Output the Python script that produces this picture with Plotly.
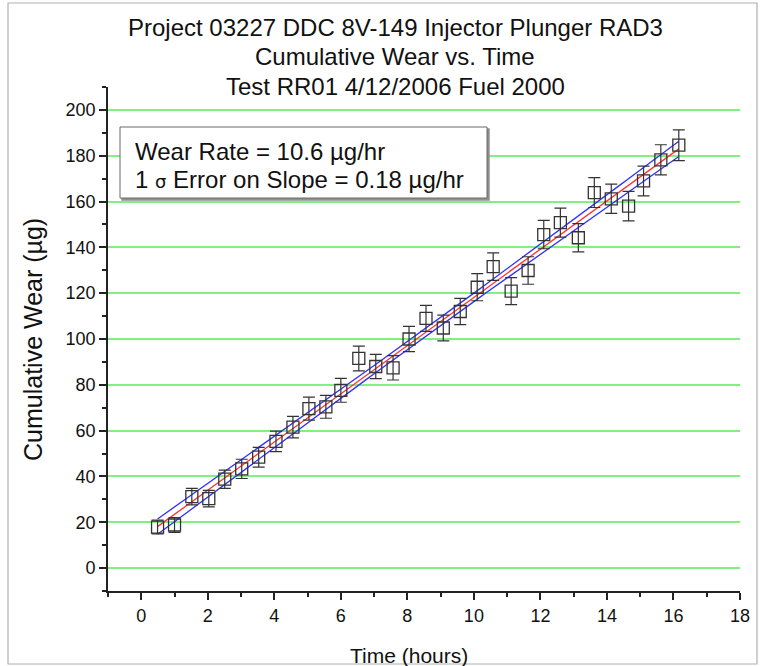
import numpy as np
import plotly.graph_objects as go

# ---- data ----
time_hours = [0.49, 1.00, 1.52, 2.03, 2.51, 3.02, 3.53, 4.05, 4.56, 5.04, 5.55,
              6.00, 6.54, 7.05, 7.57, 8.05, 8.56, 9.08, 9.59, 10.10, 10.58,
              11.12, 11.63, 12.10, 12.60, 13.14, 13.62, 14.13, 14.65, 15.10,
              15.62, 16.16]
wear_ug = [17.9, 18.8, 31.2, 30.3, 38.8, 43.3, 48.4, 55.3, 61.5, 69.6, 70.4,
           77.6, 91.5, 88.0, 87.4, 100.0, 109.0, 104.8, 112.0, 122.6, 131.6,
           120.9, 129.9, 145.6, 150.8, 144.2, 163.9, 161.2, 158.0, 169.0,
           178.2, 184.6]
wear_err = [3.0, 3.2, 3.6, 3.6, 4.0, 4.2, 4.3, 4.5, 4.7, 5.0, 5.0, 5.2, 5.4,
            5.3, 5.3, 5.5, 5.7, 5.6, 5.7, 5.9, 6.0, 5.9, 6.0, 6.2, 6.3, 6.2,
            6.5, 6.4, 6.4, 6.5, 6.6, 6.7]

title_lines = ["Project 03227 DDC 8V-149 Injector Plunger RAD3",
               "Cumulative Wear vs. Time",
               "Test RR01 4/12/2006 Fuel 2000"]
box_lines = ["Wear Rate = 10.6 µg/hr",
             "1 <span style='font-family:DejaVu Sans;font-size:18px'>σ</span> Error on Slope = 0.18 µg/hr"]
x_title = "Time (hours)"
y_title = "Cumulative Wear (µg)"

# ---- linear fit + 95% confidence band ----
x = np.array(time_hours)
y = np.array(wear_ug)
slope, intercept = np.polyfit(x, y, 1)
n = len(x)
resid = y - (slope * x + intercept)
s = np.sqrt(np.sum(resid ** 2) / (n - 2))
xbar = x.mean()
sxx = np.sum((x - xbar) ** 2)
xf = np.linspace(x.min(), x.max(), 100)
yf = slope * xf + intercept
se = s * np.sqrt(1.0 / n + (xf - xbar) ** 2 / sxx)
tval = 2.042

FONT = "Liberation Sans, Arial, sans-serif"

fig = go.Figure()
fig.add_trace(go.Scatter(x=xf, y=yf + tval * se, mode="lines",
                         line=dict(color="#3030ff", width=1.3), showlegend=False))
fig.add_trace(go.Scatter(x=xf, y=yf - tval * se, mode="lines",
                         line=dict(color="#3030ff", width=1.3), showlegend=False))
fig.add_trace(go.Scatter(x=xf, y=yf, mode="lines",
                         line=dict(color="#ff3030", width=1.3), showlegend=False))
fig.add_trace(go.Scatter(
    x=time_hours, y=wear_ug, mode="markers",
    marker=dict(symbol="square-open", size=12, color="#333333",
                line=dict(width=1.3, color="#333333")),
    error_y=dict(type="data", array=wear_err, visible=True,
                 color="#333333", thickness=1.2, width=6),
    showlegend=False))

# pixel -> paper helpers (plot area: x 108..740, y 87..591)
def px(v):
    return (v - 108) / 632.0

def py(v):
    return (591 - v) / 504.0

shapes = [
    # outer grey frame
    dict(type="rect", xref="paper", yref="paper", x0=px(8), x1=px(757),
         y0=py(664), y1=py(3), line=dict(color="#b0b0b0", width=1.2),
         layer="below"),
    # text box shadow
    dict(type="rect", xref="paper", yref="paper", x0=px(122), x1=px(489),
         y0=py(200), y1=py(129), line=dict(color="#909090", width=1.5),
         fillcolor="#909090", layer="above"),
    # text box
    dict(type="rect", xref="paper", yref="paper", x0=px(120), x1=px(487),
         y0=py(198), y1=py(127), line=dict(color="#6a6a6a", width=1),
         fillcolor="white", layer="above"),
]

annotations = []
for t, yy in zip(title_lines, [28, 56, 86]):
    annotations.append(dict(text=t, xref="paper", yref="paper", x=px(395),
                            y=py(yy), xanchor="center", yanchor="middle",
                            showarrow=False,
                            font=dict(family=FONT, size=24, color="#111111")))
for t, yy in zip(box_lines, [151, 179]):
    annotations.append(dict(text=t, xref="paper", yref="paper", x=px(133),
                            y=py(yy), xanchor="left", yanchor="middle",
                            showarrow=False,
                            font=dict(family=FONT, size=24, color="#111111")))
annotations.append(dict(text=x_title, xref="paper", yref="paper", x=px(409),
                        y=py(655), xanchor="center", yanchor="middle",
                        showarrow=False,
                        font=dict(family=FONT, size=21, color="#111111")))
annotations.append(dict(text=y_title, xref="paper", yref="paper", x=px(33),
                        y=py(340), xanchor="center", yanchor="middle",
                        textangle=-90, showarrow=False,
                        font=dict(family=FONT, size=25, color="#111111")))

fig.update_layout(
    width=764, height=666,
    margin=dict(l=108, r=24, t=87, b=75),
    paper_bgcolor="white", plot_bgcolor="white",
    font=dict(family=FONT, color="#111111"),
    shapes=shapes, annotations=annotations,
    xaxis=dict(range=[-1, 18], tick0=0, dtick=2, ticks="outside", ticklen=7,
               tickwidth=1.6, tickcolor="#222222", showgrid=False,
               zeroline=False, showline=True, linecolor="#222222",
               linewidth=1.8, tickfont=dict(size=18),
               minor=dict(dtick=1, tick0=0, ticks="outside", ticklen=4,
                          tickwidth=1.6, tickcolor="#222222")),
    yaxis=dict(range=[-10, 210], tick0=0, dtick=20, ticks="outside", ticklen=7,
               tickwidth=1.6, tickcolor="#222222", showgrid=True,
               gridcolor="#80f080", gridwidth=1.5, zeroline=False,
               showline=True, linecolor="#222222", linewidth=1.8,
               tickfont=dict(size=18),
               minor=dict(dtick=10, tick0=0, ticks="outside", ticklen=4,
                          tickwidth=1.6, tickcolor="#222222", showgrid=False)),
)

fig.write_html("out.html")
